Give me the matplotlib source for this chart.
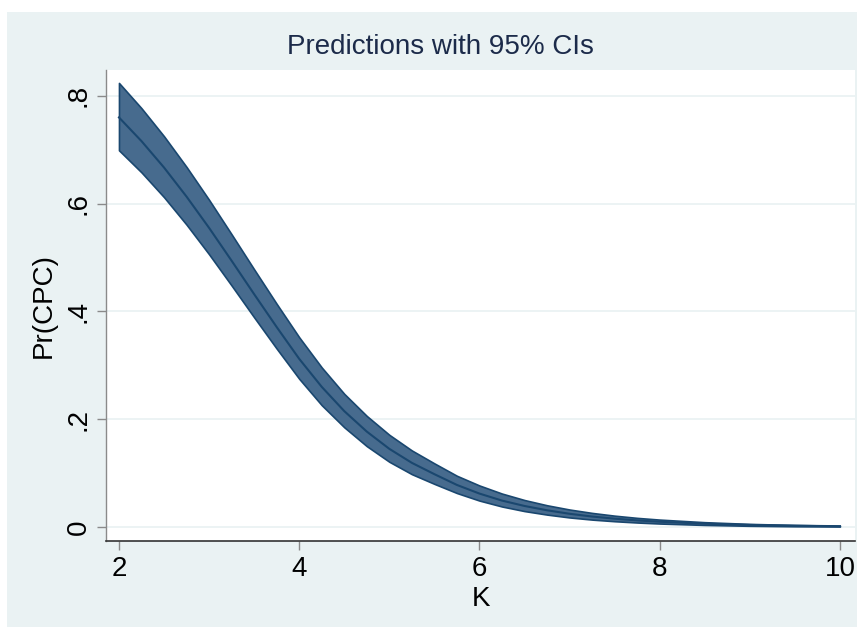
import numpy as np
import matplotlib
matplotlib.use('Agg')
import matplotlib.pyplot as plt
from matplotlib.patches import Rectangle

plt.rcParams['font.family'] = ['Liberation Sans', 'DejaVu Sans']

# values
k = [2.0, 2.25, 2.5, 2.75, 3.0, 3.25, 3.5, 3.75, 4.0, 4.25, 4.5, 4.75, 5.0, 5.25,
     5.5, 5.75, 6.0, 6.25, 6.5, 6.75, 7.0, 7.25, 7.5, 7.75, 8.0, 8.5, 9.0, 9.5, 10.0]
pred = [0.760, 0.716, 0.667, 0.613, 0.555, 0.494, 0.432, 0.371, 0.312, 0.260,
        0.215, 0.177, 0.145, 0.119, 0.098, 0.078, 0.062, 0.049, 0.039, 0.031,
        0.0245, 0.0194, 0.0154, 0.0122, 0.0097, 0.0061, 0.0038, 0.0024, 0.0015]
ci_hi = [0.824, 0.777, 0.725, 0.668, 0.607, 0.543, 0.478, 0.414, 0.352, 0.296,
         0.247, 0.206, 0.171, 0.142, 0.118, 0.095, 0.077, 0.062, 0.050, 0.0403,
         0.0324, 0.0261, 0.0210, 0.0169, 0.0137, 0.0089, 0.0057, 0.0037, 0.0024]
ci_lo = [0.699, 0.658, 0.612, 0.561, 0.506, 0.448, 0.389, 0.331, 0.275, 0.226,
         0.185, 0.150, 0.121, 0.098, 0.080, 0.063, 0.049, 0.038, 0.0295, 0.023,
         0.0177, 0.0137, 0.0107, 0.0083, 0.0064, 0.0038, 0.0022, 0.0013, 0.0008]
xticks = [2, 4, 6, 8, 10]
yticks = [0, 0.2, 0.4, 0.6, 0.8]
ytick_labels = ['0', '.2', '.4', '.6', '.8']

W, H = 857, 627
fig = plt.figure(figsize=(W / 100, H / 100), dpi=100, facecolor='white')
bg = '#eaf2f3'
rect = Rectangle((7 / W, 0), 1 - 7 / W, 1 - 12 / H, transform=fig.transFigure,
                 facecolor=bg, edgecolor='none', zorder=-10)
fig.add_artist(rect)

ax = fig.add_axes([106 / W, 1 - 541 / H, (855 - 106) / W, (541 - 70) / H])
ax.set_zorder(1)
ax.set_facecolor('white')

navy = '#1a476f'
ax.fill_between(k, ci_lo, ci_hi, facecolor='#476b8e', edgecolor=navy, linewidth=1.2, zorder=3)
ax.plot(k, pred, color=navy, linewidth=1.5, zorder=4)

ax.set_xlim(1.856, 10.167)
ax.set_ylim(-0.026, 0.848)
ax.set_xticks(xticks)
ax.set_yticks(yticks)
ax.set_yticklabels(ytick_labels)

ax.yaxis.grid(True, color=bg, linewidth=1.3, zorder=1)
ax.xaxis.grid(False)
ax.set_axisbelow(True)

for s in ['top', 'right']:
    ax.spines[s].set_visible(False)
ax.spines['left'].set_color('#8a8a8a')
ax.spines['left'].set_linewidth(1.0)
ax.spines['bottom'].set_color('#333333')
ax.spines['bottom'].set_linewidth(1.2)

ax.tick_params(axis='both', direction='out', length=6.5, width=1.0, color='#8a8a8a',
               labelsize=20, labelcolor='black', pad=4)
for lab in ax.get_yticklabels():
    lab.set_rotation(90)
    lab.set_va('center')
    lab.set_ha('right')

ax.set_xlabel('K', fontsize=20, labelpad=3)
ax.set_ylabel('Pr(CPC)', fontsize=20, labelpad=6)

fig.text(440 / W, 1 - 47 / H, 'Predictions with 95% CIs', fontsize=20, color='#1c2b4a',
         ha='center', va='center')

fig.savefig('out.png', dpi=100, facecolor=fig.get_facecolor())
